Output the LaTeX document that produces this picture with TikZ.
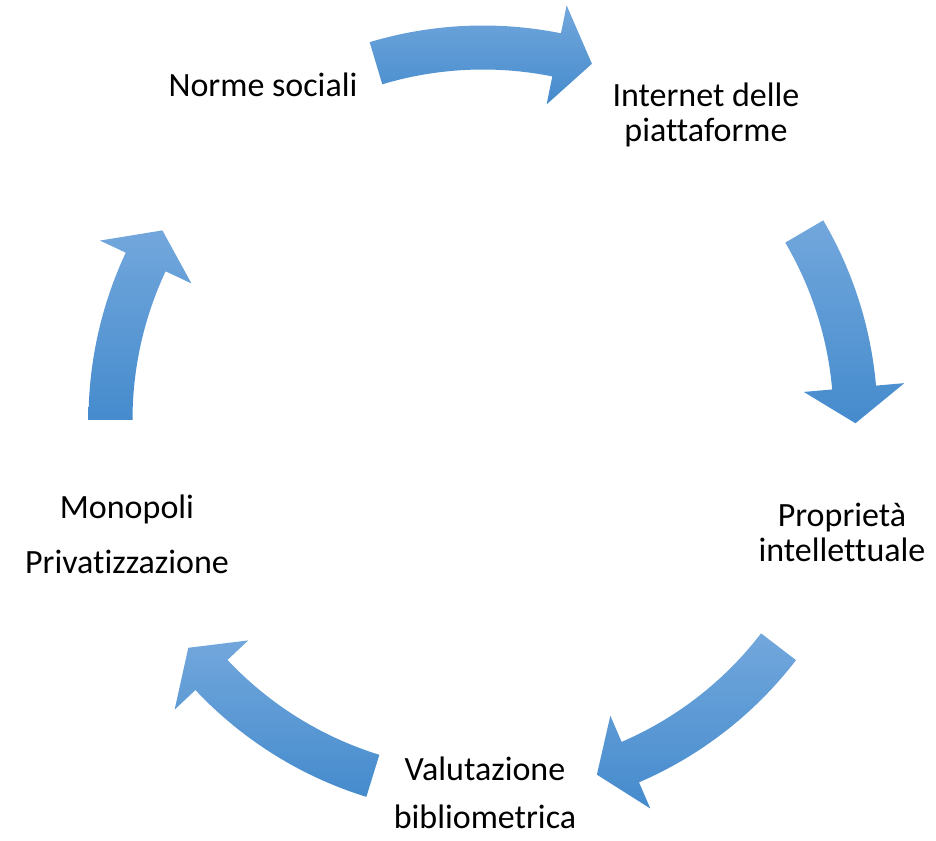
\documentclass[tikz,border=0pt]{standalone}
\usepackage{fontspec}
\setmainfont{Carlito}[Ligatures=NoCommon]
\usepackage{xcolor}
\usepackage{tikz}

\definecolor{arrowtop}{RGB}{114,167,220}
\definecolor{arrowbot}{RGB}{69,139,205}

\tikzset{
    label/.style={align=center, inner sep=0pt, anchor=base, font=\fontsize{25.5}{26.25}\selectfont},
    arrowfill/.style={top color=arrowtop, bottom color=arrowbot, draw=none}
}

\begin{document}
\begin{tikzpicture}[x=0.75pt, y=0.75pt]
    \useasboundingbox (0,0) rectangle (936,840);

    % base anchor sits on the last line
    \node[label] (norme) at (263,743) {Norme sociali};
    \node[label] (internet) at (706,698) {Internet delle\\piattaforme};
    \node[label] (proprieta) at (842,278) {Propriet\`a\\intellettuale};
    \node[label] (valutazione) at (485,12) {Valutazione\\[9.75pt]bibliometrica};
    \node[label] (monopoli) at (127,266) {Monopoli\\[15pt]Privatizzazione};

    \begin{scope}[shift={(483,420)}]
    % norme -> internet
    \shade[arrowfill] (106.7:394.5) arc[start angle=106.7, end angle=78.6, radius=394.5] -- (78.6:423) -- (73.0:372.5) -- (78.6:322) -- (78.6:350.5) arc[start angle=78.6, end angle=106.7, radius=350.5] -- cycle;
    % internet -> proprieta
    \shade[arrowfill] (30.4:394.5) arc[start angle=30.4, end angle=5.0, radius=394.5] -- (5.0:423) -- (-0.5:372.5) -- (5.0:322) -- (5.0:350.5) arc[start angle=5.0, end angle=30.4, radius=350.5] -- cycle;
    % proprieta -> valutazione
    \shade[arrowfill] (-37.5:394.5) arc[start angle=-37.5, end angle=-66.7, radius=394.5] -- (-66.7:423) -- (-72.2:372.5) -- (-66.7:322) -- (-66.7:350.5) arc[start angle=-66.7, end angle=-37.5, radius=350.5] -- cycle;
    % valutazione -> monopoli
    \shade[arrowfill] (-107.2:394.5) arc[start angle=-107.2, end angle=-136.8, radius=394.5] -- (-136.8:423) -- (-142.3:372.5) -- (-136.8:322) -- (-136.8:350.5) arc[start angle=-136.8, end angle=-107.2, radius=350.5] -- cycle;
    % monopoli -> norme
    \shade[arrowfill] (180:394.5) arc[start angle=180, end angle=154.9, radius=394.5] -- (154.9:423) -- (149.4:372.5) -- (154.9:322) -- (154.9:350.5) arc[start angle=154.9, end angle=180, radius=350.5] -- cycle;
    \end{scope}

\end{tikzpicture}
\end{document}
